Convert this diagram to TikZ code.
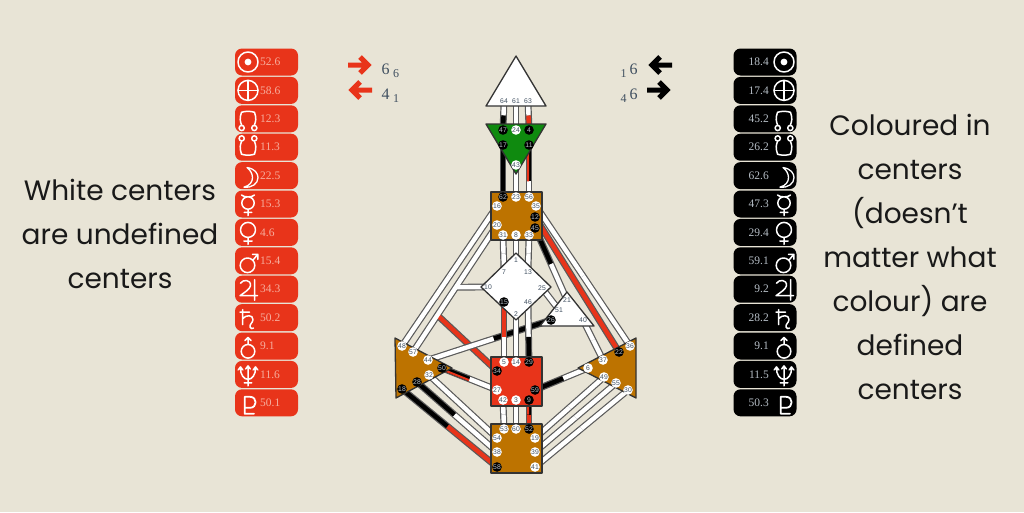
\documentclass[tikz,border=0pt]{standalone}
\usepackage{fontspec}
\setmainfont{Liberation Serif}
\newfontfamily\gatef{Liberation Sans}
\newfontfamily\bigf{Poppins}
\usetikzlibrary{calc}
\definecolor{bgc}{HTML}{E8E4D6}
\definecolor{redc}{HTML}{E8341A}
\definecolor{brownc}{HTML}{BD7300}
\definecolor{greenc}{HTML}{0F8A0F}
\definecolor{outc}{HTML}{5A5A5A}
\definecolor{slate}{HTML}{3F4F60}
\definecolor{pinkt}{HTML}{F6AE9E}
\definecolor{greyt}{HTML}{B6BEC6}
\pgfdeclarelayer{bg}\pgfdeclarelayer{chan}\pgfdeclarelayer{cent}
\pgfsetlayers{bg,chan,cent,main}
\tikzset{
 gatebase/.style={circle,inner sep=0pt,minimum size=9.6pt,font=\gatef\fontsize{6.8}{7}\selectfont},
 gw/.style={gatebase,fill=white,text=slate},
 gk/.style={gatebase,fill=black,text=greyt},
 gp/.style={gatebase,text=slate},
 centerbox/.style={draw=black!80,line width=1.3pt,line join=round},
 rowl/.style={rounded corners=7pt,fill=redc,minimum width=63pt,minimum height=27pt,inner sep=0pt},
 rowr/.style={rounded corners=7pt,fill=black,minimum width=63pt,minimum height=27pt,inner sep=0pt},
 vall/.style={anchor=west,text=pinkt,inner sep=0pt,font=\fontsize{11.5}{12}\selectfont},
 valr/.style={anchor=east,text=greyt,inner sep=0pt,font=\fontsize{11.5}{12}\selectfont},
 sym/.style={draw=white,line width=1.5pt,line join=round,line cap=round},
 bigtext/.style={align=center,inner sep=0pt,text=black!90,font=\bigf\fontsize{28}{44}\selectfont},
 numbig/.style={text=slate,inner sep=0pt,font=\fontsize{16}{16}\selectfont},
 numsub/.style={text=slate,inner sep=0pt,font=\fontsize{12}{12}\selectfont},
 arrowk/.style={line width=5pt,line cap=butt,miter limit=10},
}
% channel: a, b, fraction, colour on a side, colour on b side
\newcommand\chan[5]{%
 \draw[outc,line width=6.8pt] (g#1.center) -- (g#2.center);
 \draw[#4,line width=4.4pt] (g#1.center) -- ($(g#1)!#3!(g#2)$);
 \draw[#5,line width=4.4pt] ($(g#1)!#3!(g#2)$) -- (g#2.center);
}
\newcommand\symb[1]{%
 \ifcase#1\relax
 \draw[sym] (0,0) circle (10); \fill[white] (0,0) circle (3.4);
 \or
 \draw[sym] (0,0) circle (10); \draw[sym] (-10,0) -- (10,0) (0,-10) -- (0,10);
 \or
 \draw[sym] (-6.3,9.2) circle (2.6) (6.3,9.2) circle (2.6);
 \draw[sym] (-6.3,6.6) .. controls (-8,2) and (-8.5,-0.5) .. (-6.5,-6.5) .. controls (-3,-7.8) and (3,-7.8) .. (6.5,-6.5) .. controls (8.5,-0.5) and (8,2) .. (6.3,6.6);
 \or
 \draw[sym] (-6.3,-8.8) circle (2.6) (6.3,-8.8) circle (2.6);
 \draw[sym] (-6.3,-6.2) .. controls (-8,-2) and (-8.5,0.5) .. (-6.5,7) .. controls (-3,8.3) and (3,8.3) .. (6.5,7) .. controls (8.5,0.5) and (8,-2) .. (6.3,-6.2);
 \or
 \draw[sym,line width=1.3pt] (-1,-8) .. controls (7,-7) and (10,-2) .. (10,2) .. controls (10,8) and (4,12.5) .. (-4,11.5) .. controls (2,10) and (4.5,6) .. (4.5,2) .. controls (4.5,-2) and (2,-6) .. (-1,-8) -- cycle;
 \or
 \draw[sym] (0,-1) circle (6.2) (-6.5,-9) .. controls (-4.5,-6.5) and (4.5,-6.5) .. (6.5,-9) (0,5.2) -- (0,11.5) (-3.8,8.3) -- (3.8,8.3);
 \or
 \draw[sym] (0,-2.5) circle (7.5) (0,5) -- (0,12) (-4.2,8.6) -- (4.2,8.6);
 \or
 \draw[sym] (-0.5,4.5) circle (7.3) (4.8,-0.5) -- (9.8,-6.5) (4.5,-6.5) -- (9.8,-6.5) -- (9.8,-1.5);
 \or
 \draw[sym] (6.7,-9.5) -- (6.7,11) (-8,6.5) -- (9.5,6.5) (-7.5,-6) .. controls (-5,-10) and (3,-10) .. (2.5,-3.5) .. controls (2,0) and (-4,3.5) .. (-8,6.5);
 \or
 \draw[sym] (-5.3,-8) -- (-5.3,7) (-8,-5.5) -- (1.5,-5.5) (-5.3,1) .. controls (-2,-3) and (5,-3) .. (5,2) .. controls (5,5) and (1,7) .. (2,9.5) .. controls (2.5,11) and (4.5,11.5) .. (5.5,10.5);
 \or
 \draw[sym] (0,5.3) circle (6.8) (0,-1.5) -- (0,-8.5) (-3,-5.5) -- (0,-8.5) -- (3,-5.5);
 \or
 \draw[sym] (0,-8) -- (0,11.5) (-3.8,8.4) -- (3.8,8.4) (-7.5,-7) .. controls (-8,0) and (-4,5) .. (0,5) .. controls (4,5) and (8,0) .. (7.5,-7) (-9.8,-4.5) -- (-7.5,-7.5) -- (-5.2,-4.5) (-2.3,-5.5) -- (0,-8.5) -- (2.3,-5.5) (5.2,-4.5) -- (7.5,-7.5) -- (9.8,-4.5);
 \or
 \draw[sym,line width=1.8pt] (-3.3,11) -- (-3.3,-6) -- (2,-6) .. controls (9.5,-6) and (9.5,5) .. (2,5) -- (-3.3,5) (-3.3,11) -- (6,11);
 \fi
}
\begin{document}
\begin{tikzpicture}[x=1pt,y=-1pt]
\begin{pgfonlayer}{bg}
\fill[bgc] (0,0) rectangle (1024,512);
\end{pgfonlayer}
\useasboundingbox (0,0) rectangle (1024,512);

% gates
\foreach \n/\x/\y in {64/504/101,61/516/101,63/528/101,1/516/260,7/504/272,13/528/272,10/488/287,25/542/288,46/528/302,2/516/314,21/567/300,51/559/310,40/583/320}
  \node[gp] (g\n) at (\x,\y) {\n};
\foreach \n/\x/\y in {24/516/130,43/516/165,23/516/197,56/529/197,16/497/206,35/536/206,20/497/225,31/503/235,8/516/235,33/529/235,48/402/346,57/413/352,44/428/360,32/429/375,36/630/346,37/603/360,6/588/368,49/604/377,55/616/383,30/628/390,5/504/362,14/516/362,27/497/390,42/503/400,3/516/400,53/504/429,60/516/429,54/497/438,19/535/438,38/497/452,39/535/452,41/535/467}
  \node[gw] (g\n) at (\x,\y) {\n};
\foreach \n/\x/\y in {47/503/130,4/529/130,17/503/145,11/529/145,62/503/197,12/535/217,45/535/228,15/504/302,26/551/320,50/442/368,28/417/382,18/402/389,22/619/352,29/529/362,34/497/371,59/535/390,9/529/400,52/529/429,58/497/467}
  \node[gk] (g\n) at (\x,\y) {\n};

% channels
\begin{pgfonlayer}{chan}
\coordinate (jred) at ($(g20)!0.71!(g57)$);
\coordinate (jten) at ($(g20)!0.49!(g57)$);
\chan{16}{48}{.5}{white}{white}
\draw[outc,line width=6.8pt] (jten) -- (g10.center);
\draw[outc,line width=6.8pt] (g20.center) -- (g57.center);
\draw[outc,line width=6.8pt] (jred) -- (g34.center);
\draw[redc,line width=4.4pt] (jred) -- (g34.center);
\draw[white,line width=4.4pt] (jten) -- (g10.center);
\draw[white,line width=4.4pt] (g20.center) -- (g57.center);
\chan{44}{26}{.535}{white}{black}
\chan{35}{36}{.5}{white}{white}
\chan{12}{22}{.5}{redc}{redc}
\chan{45}{21}{.5}{black}{white}
\chan{25}{51}{.5}{white}{white}
\chan{37}{40}{.5}{white}{white}
\chan{64}{47}{.5}{white}{black}
\chan{61}{24}{.5}{white}{white}
\chan{63}{4}{.5}{white}{redc}
\chan{17}{62}{.5}{black}{black}
\chan{43}{23}{.5}{white}{white}
\chan{11}{56}{.7}{black}{white}
\draw[redc,line width=2pt] ([xshift=-.8pt]g11.center) -- ($([xshift=-.8pt]g11.center)!.7!([xshift=-.8pt]g56.center)$);
\chan{31}{7}{.5}{white}{white}
\chan{8}{1}{.5}{white}{white}
\chan{33}{13}{.5}{white}{white}
\chan{15}{5}{.58}{redc}{white}
\chan{2}{14}{.5}{white}{white}
\chan{46}{29}{.58}{white}{black}
\chan{42}{53}{.5}{white}{white}
\chan{3}{60}{.5}{white}{white}
\chan{9}{52}{.5}{black}{redc}
\draw[redc,line width=2pt] ([xshift=-.8pt]g9.center) -- ($([xshift=-.8pt]g9.center)!.5!([xshift=-.8pt]g52.center)$);
\chan{50}{27}{.5}{black}{white}
\draw[redc,line width=2pt] ([shift={(-.45,1.1)}]g50.center) -- ($([shift={(-.45,1.1)}]g50.center)!.5!([shift={(-.45,1.1)}]g27.center)$);
\chan{18}{58}{.48}{black}{redc}
\chan{28}{38}{.47}{black}{white}
\chan{32}{54}{.5}{white}{white}
\chan{49}{19}{.5}{white}{white}
\chan{55}{39}{.5}{white}{white}
\chan{30}{41}{.5}{white}{white}
\chan{6}{59}{.47}{white}{black}
\end{pgfonlayer}

% centres
\begin{pgfonlayer}{cent}
\draw[centerbox,fill=white] (516,56) -- (546,106) -- (486,106) -- cycle;
\draw[centerbox,fill=greenc] (486,124) -- (546,124) -- (516,174) -- cycle;
\draw[centerbox,fill=brownc] (491,192) rectangle (542,240);
\draw[centerbox,fill=white] (516,253) -- (551,287) -- (516,320) -- (481,287) -- cycle;
\draw[centerbox,fill=white] (567,292) -- (594,326) -- (540,326) -- cycle;
\draw[centerbox,fill=brownc] (395,338) -- (452,368) -- (396,398) -- cycle;
\draw[centerbox,fill=brownc] (636,338) -- (636,398) -- (578,368) -- cycle;
\draw[centerbox,fill=redc] (491,357) rectangle (542,406);
\draw[centerbox,fill=brownc] (491,424) rectangle (542,473);
\end{pgfonlayer}

% planet rows
\foreach \i/\v in {0/52.6,1/58.6,2/12.3,3/11.3,4/22.5,5/15.3,6/4.6,7/15.4,8/34.3,9/50.2,10/9.1,11/11.6,12/50.1}{
  \pgfmathsetmacro\yy{62+28.4*\i}
  \node[rowl] (lrow\i) at (266.5,\yy) {};
  \node[vall] (lval\i) at (260,\yy) {\v};
  \begin{scope}[shift={(248,\yy)}]\symb{\i}\end{scope}
}
\foreach \i/\v in {0/18.4,1/17.4,2/45.2,3/26.2,4/62.6,5/47.3,6/29.4,7/59.1,8/9.2,9/28.2,10/9.1,11/11.5,12/50.3}{
  \pgfmathsetmacro\yy{62+28.4*\i}
  \node[rowr] (rrow\i) at (765,\yy) {};
  \node[valr] (rval\i) at (769,\yy) {\v};
  \begin{scope}[shift={(784,\yy)}]\symb{\i}\end{scope}
}

% arrows and numbers
\draw[redc,arrowk] (348,65) -- (368,65) (360,57) -- (368,65) -- (360,73);
\draw[redc,arrowk] (372,90) -- (352,90) (360,82) -- (352,90) -- (360,98);
\draw[black,arrowk] (672,65) -- (652,65) (660,57) -- (652,65) -- (660,73);
\draw[black,arrowk] (647,90) -- (667,90) (659,82) -- (667,90) -- (659,98);
\node[numbig] (n1) at (385.5,69) {6};
\node[numsub] (n2) at (396,74) {6};
\node[numbig] (n3) at (385.5,94) {4};
\node[numsub] (n4) at (396,99) {1};
\node[numbig] (n5) at (633.5,69) {6};
\node[numsub] (n6) at (623.5,74) {1};
\node[numbig] (n7) at (633.5,94) {6};
\node[numsub] (n8) at (623.5,99) {4};

% captions
\node[bigtext] (capl) at (120,234) {White centers\\are undefined\\centers};
\node[bigtext] (capr) at (910,257) {Coloured in\\centers\\(doesn’t\\matter what\\colour) are\\defined\\centers};
\end{tikzpicture}
\end{document}
